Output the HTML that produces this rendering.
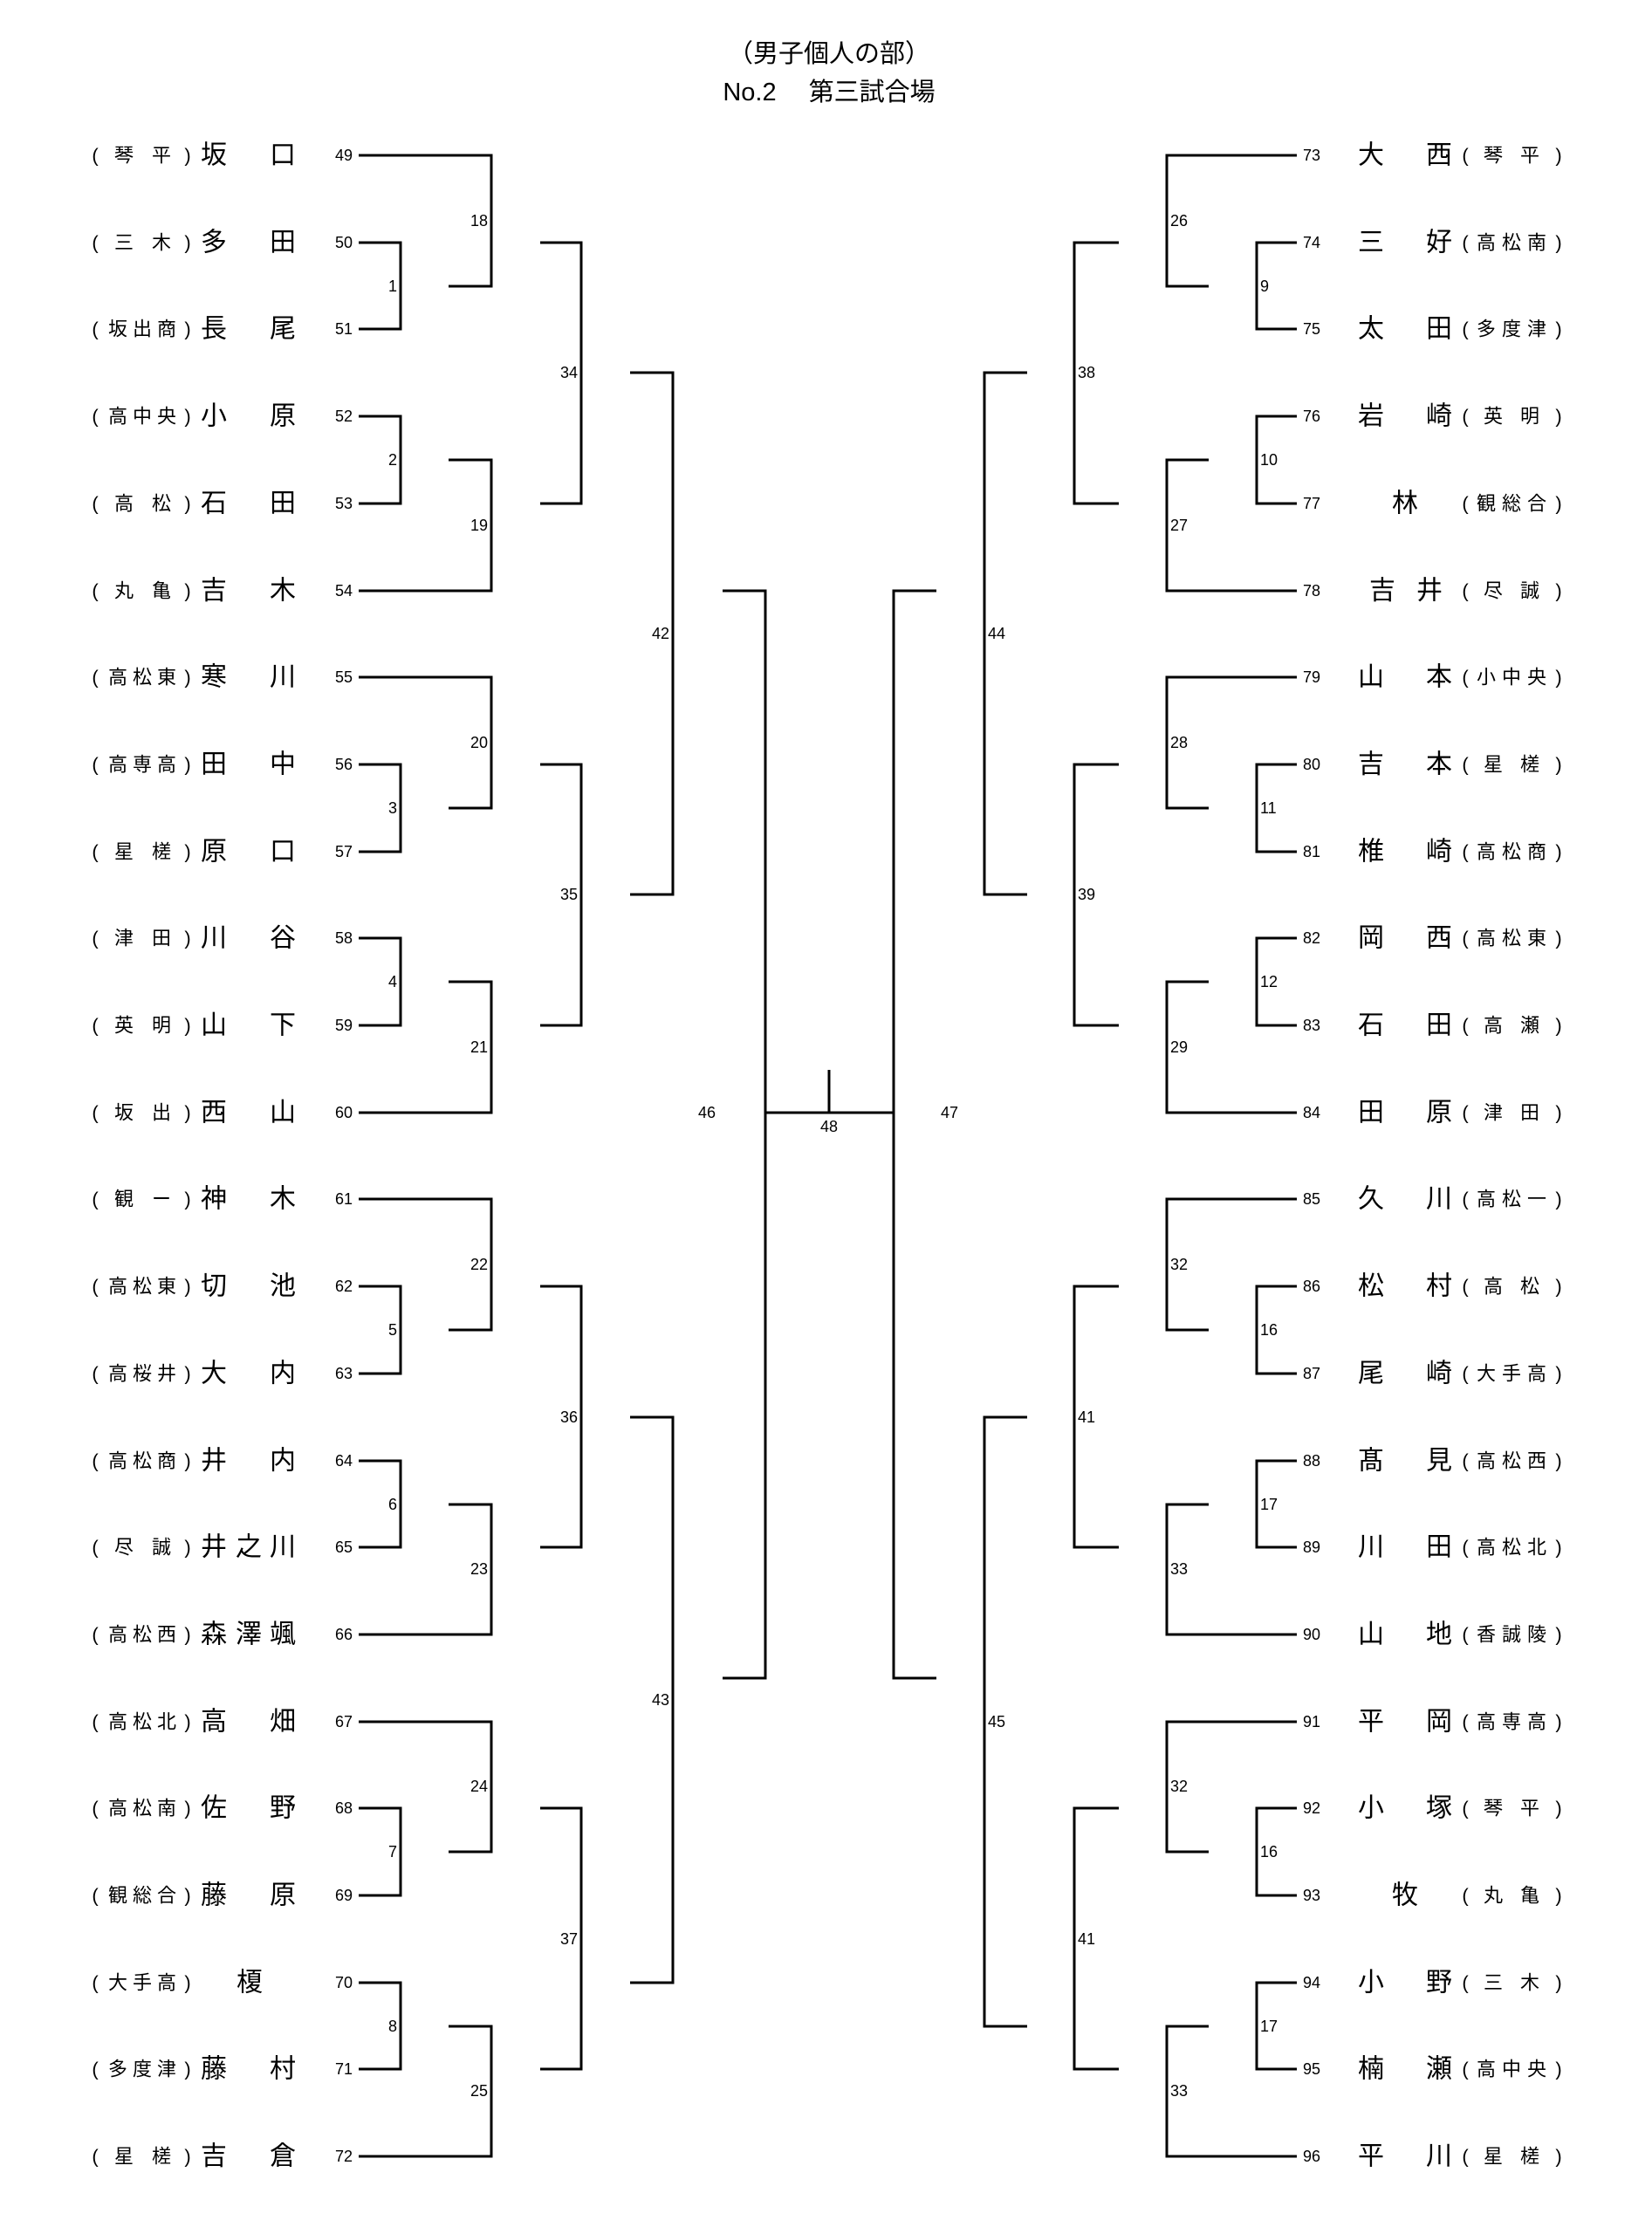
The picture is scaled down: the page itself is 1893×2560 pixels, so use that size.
<!DOCTYPE html>
<html><head><meta charset="utf-8"><style>
html,body{margin:0;padding:0;background:#fff;}
svg{display:block;}
text{font-family:"Liberation Sans","Noto Sans CJK JP",sans-serif;fill:#000;dominant-baseline:central;}
.n{font-size:18px;}
.s{font-size:22px;text-anchor:middle;}
.m{font-size:30px;text-anchor:middle;}
.l{font-size:18px;}
.e{text-anchor:end;}
.c{text-anchor:middle;}
.t{font-size:29px;text-anchor:middle;}
polyline,line{fill:none;stroke:#000;stroke-width:3;}
</style></head><body>
<svg width="1893" height="2560" viewBox="0 0 1893 2560" xmlns="http://www.w3.org/2000/svg">
<text class="t" x="950" y="62">（男子個人の部）</text>
<text class="t" x="950" y="106">No.2　 第三試合場</text>

<!-- LEFT LINES -->
<g>
<!-- block0 -->
<polyline points="411,278 459,278 459,377 411,377"/>
<polyline points="411,477 459,477 459,577 411,577"/>
<polyline points="411,178 563,178 563,328 514,328"/>
<polyline points="514,527 563,527 563,677 411,677"/>
<polyline points="619,278 666,278 666,577 619,577"/>
<!-- block1 -->
<polyline points="411,876 459,876 459,976 411,976"/>
<polyline points="411,1075 459,1075 459,1175 411,1175"/>
<polyline points="411,776 563,776 563,926 514,926"/>
<polyline points="514,1125 563,1125 563,1275 411,1275"/>
<polyline points="619,876 666,876 666,1175 619,1175"/>
<!-- block2 -->
<polyline points="411,1474 459,1474 459,1574 411,1574"/>
<polyline points="411,1674 459,1674 459,1773 411,1773"/>
<polyline points="411,1374 563,1374 563,1524 514,1524"/>
<polyline points="514,1724 563,1724 563,1873 411,1873"/>
<polyline points="619,1474 666,1474 666,1773 619,1773"/>
<!-- block3 -->
<polyline points="411,2072 459,2072 459,2172 411,2172"/>
<polyline points="411,2272 459,2272 459,2371 411,2371"/>
<polyline points="411,1973 563,1973 563,2122 514,2122"/>
<polyline points="514,2322 563,2322 563,2471 411,2471"/>
<polyline points="619,2072 666,2072 666,2371 619,2371"/>
<!-- r4 r5 -->
<polyline points="722,427 771,427 771,1025 722,1025"/>
<polyline points="722,1624 771,1624 771,2272 722,2272"/>
<polyline points="828,677 877,677 877,1923 828,1923"/>
</g>
<!-- CENTER -->
<line x1="877" y1="1275" x2="1024" y2="1275"/>
<line x1="950" y1="1226" x2="950" y2="1275"/>
<!-- RIGHT LINES -->
<g>
<polyline points="1486,278 1440,278 1440,377 1486,377"/>
<polyline points="1486,477 1440,477 1440,577 1486,577"/>
<polyline points="1486,178 1337,178 1337,328 1385,328"/>
<polyline points="1385,527 1337,527 1337,677 1486,677"/>
<polyline points="1282,278 1231,278 1231,577 1282,577"/>

<polyline points="1486,876 1440,876 1440,976 1486,976"/>
<polyline points="1486,1075 1440,1075 1440,1175 1486,1175"/>
<polyline points="1486,776 1337,776 1337,926 1385,926"/>
<polyline points="1385,1125 1337,1125 1337,1275 1486,1275"/>
<polyline points="1282,876 1231,876 1231,1175 1282,1175"/>

<polyline points="1486,1474 1440,1474 1440,1574 1486,1574"/>
<polyline points="1486,1674 1440,1674 1440,1773 1486,1773"/>
<polyline points="1486,1374 1337,1374 1337,1524 1385,1524"/>
<polyline points="1385,1724 1337,1724 1337,1873 1486,1873"/>
<polyline points="1282,1474 1231,1474 1231,1773 1282,1773"/>

<polyline points="1486,2072 1440,2072 1440,2172 1486,2172"/>
<polyline points="1486,2272 1440,2272 1440,2371 1486,2371"/>
<polyline points="1486,1973 1337,1973 1337,2122 1385,2122"/>
<polyline points="1385,2322 1337,2322 1337,2471 1486,2471"/>
<polyline points="1282,2072 1231,2072 1231,2371 1282,2371"/>

<polyline points="1177,427 1128,427 1128,1025 1177,1025"/>
<polyline points="1177,1624 1128,1624 1128,2322 1177,2322"/>
<polyline points="1073,677 1024,677 1024,1923 1073,1923"/>
</g>

<!-- LEFT ROUND LABELS -->
<g class="l e">
<text class="l e" x="455" y="328">1</text><text class="l e" x="455" y="527">2</text>
<text class="l e" x="559" y="253">18</text><text class="l e" x="559" y="602">19</text>
<text class="l e" x="662" y="427">34</text>
<text class="l e" x="455" y="926">3</text><text class="l e" x="455" y="1125">4</text>
<text class="l e" x="559" y="851">20</text><text class="l e" x="559" y="1200">21</text>
<text class="l e" x="662" y="1025">35</text>
<text class="l e" x="455" y="1524">5</text><text class="l e" x="455" y="1724">6</text>
<text class="l e" x="559" y="1449">22</text><text class="l e" x="559" y="1798">23</text>
<text class="l e" x="662" y="1624">36</text>
<text class="l e" x="455" y="2122">7</text><text class="l e" x="455" y="2322">8</text>
<text class="l e" x="559" y="2047">24</text><text class="l e" x="559" y="2396">25</text>
<text class="l e" x="662" y="2222">37</text>
<text class="l e" x="767" y="726">42</text>
<text class="l e" x="767" y="1948">43</text>
<text class="l c" x="810" y="1275">46</text>
<text class="l c" x="950" y="1291">48</text>
<text class="l c" x="1088" y="1275">47</text>
</g>
<!-- RIGHT ROUND LABELS -->
<text class="l" x="1444" y="328">9</text><text class="l" x="1444" y="527">10</text>
<text class="l" x="1341" y="253">26</text><text class="l" x="1341" y="602">27</text>
<text class="l" x="1235" y="427">38</text>
<text class="l" x="1444" y="926">11</text><text class="l" x="1444" y="1125">12</text>
<text class="l" x="1341" y="851">28</text><text class="l" x="1341" y="1200">29</text>
<text class="l" x="1235" y="1025">39</text>
<text class="l" x="1444" y="1524">16</text><text class="l" x="1444" y="1724">17</text>
<text class="l" x="1341" y="1449">32</text><text class="l" x="1341" y="1798">33</text>
<text class="l" x="1235" y="1624">41</text>
<text class="l" x="1444" y="2122">16</text><text class="l" x="1444" y="2322">17</text>
<text class="l" x="1341" y="2047">32</text><text class="l" x="1341" y="2396">33</text>
<text class="l" x="1235" y="2222">41</text>
<text class="l" x="1132" y="726">44</text>
<text class="l" x="1132" y="1973">45</text>

<!-- LEFT ENTRIES -->
<g>
<text class="s" x="109" y="178">(</text><text class="s" x="142" y="178">琴</text><text class="s" x="185" y="178">平</text><text class="s" x="215" y="178">)</text><text class="m" x="245" y="178">坂</text><text class="m" x="324" y="178">口</text><text class="n e" x="404" y="178">49</text>
<text class="s" x="109" y="278">(</text><text class="s" x="142" y="278">三</text><text class="s" x="185" y="278">木</text><text class="s" x="215" y="278">)</text><text class="m" x="245" y="278">多</text><text class="m" x="324" y="278">田</text><text class="n e" x="404" y="278">50</text>
<text class="s" x="109" y="377">(</text><text class="s" x="135" y="377">坂</text><text class="s" x="163" y="377">出</text><text class="s" x="191" y="377">商</text><text class="s" x="215" y="377">)</text><text class="m" x="245" y="377">長</text><text class="m" x="324" y="377">尾</text><text class="n e" x="404" y="377">51</text>
<text class="s" x="109" y="477">(</text><text class="s" x="135" y="477">高</text><text class="s" x="163" y="477">中</text><text class="s" x="191" y="477">央</text><text class="s" x="215" y="477">)</text><text class="m" x="245" y="477">小</text><text class="m" x="324" y="477">原</text><text class="n e" x="404" y="477">52</text>
<text class="s" x="109" y="577">(</text><text class="s" x="142" y="577">高</text><text class="s" x="185" y="577">松</text><text class="s" x="215" y="577">)</text><text class="m" x="245" y="577">石</text><text class="m" x="324" y="577">田</text><text class="n e" x="404" y="577">53</text>
<text class="s" x="109" y="677">(</text><text class="s" x="142" y="677">丸</text><text class="s" x="185" y="677">亀</text><text class="s" x="215" y="677">)</text><text class="m" x="245" y="677">吉</text><text class="m" x="324" y="677">木</text><text class="n e" x="404" y="677">54</text>
<text class="s" x="109" y="776">(</text><text class="s" x="135" y="776">高</text><text class="s" x="163" y="776">松</text><text class="s" x="191" y="776">東</text><text class="s" x="215" y="776">)</text><text class="m" x="245" y="776">寒</text><text class="m" x="324" y="776">川</text><text class="n e" x="404" y="776">55</text>
<text class="s" x="109" y="876">(</text><text class="s" x="135" y="876">高</text><text class="s" x="163" y="876">専</text><text class="s" x="191" y="876">高</text><text class="s" x="215" y="876">)</text><text class="m" x="245" y="876">田</text><text class="m" x="324" y="876">中</text><text class="n e" x="404" y="876">56</text>
<text class="s" x="109" y="976">(</text><text class="s" x="142" y="976">星</text><text class="s" x="185" y="976">槎</text><text class="s" x="215" y="976">)</text><text class="m" x="245" y="976">原</text><text class="m" x="324" y="976">口</text><text class="n e" x="404" y="976">57</text>
<text class="s" x="109" y="1075">(</text><text class="s" x="142" y="1075">津</text><text class="s" x="185" y="1075">田</text><text class="s" x="215" y="1075">)</text><text class="m" x="245" y="1075">川</text><text class="m" x="324" y="1075">谷</text><text class="n e" x="404" y="1075">58</text>
<text class="s" x="109" y="1175">(</text><text class="s" x="142" y="1175">英</text><text class="s" x="185" y="1175">明</text><text class="s" x="215" y="1175">)</text><text class="m" x="245" y="1175">山</text><text class="m" x="324" y="1175">下</text><text class="n e" x="404" y="1175">59</text>
<text class="s" x="109" y="1275">(</text><text class="s" x="142" y="1275">坂</text><text class="s" x="185" y="1275">出</text><text class="s" x="215" y="1275">)</text><text class="m" x="245" y="1275">西</text><text class="m" x="324" y="1275">山</text><text class="n e" x="404" y="1275">60</text>
<text class="s" x="109" y="1374">(</text><text class="s" x="142" y="1374">観</text><text class="s" x="185" y="1374">ー</text><text class="s" x="215" y="1374">)</text><text class="m" x="245" y="1374">神</text><text class="m" x="324" y="1374">木</text><text class="n e" x="404" y="1374">61</text>
<text class="s" x="109" y="1474">(</text><text class="s" x="135" y="1474">高</text><text class="s" x="163" y="1474">松</text><text class="s" x="191" y="1474">東</text><text class="s" x="215" y="1474">)</text><text class="m" x="245" y="1474">切</text><text class="m" x="324" y="1474">池</text><text class="n e" x="404" y="1474">62</text>
<text class="s" x="109" y="1574">(</text><text class="s" x="135" y="1574">高</text><text class="s" x="163" y="1574">桜</text><text class="s" x="191" y="1574">井</text><text class="s" x="215" y="1574">)</text><text class="m" x="245" y="1574">大</text><text class="m" x="324" y="1574">内</text><text class="n e" x="404" y="1574">63</text>
<text class="s" x="109" y="1674">(</text><text class="s" x="135" y="1674">高</text><text class="s" x="163" y="1674">松</text><text class="s" x="191" y="1674">商</text><text class="s" x="215" y="1674">)</text><text class="m" x="245" y="1674">井</text><text class="m" x="324" y="1674">内</text><text class="n e" x="404" y="1674">64</text>
<text class="s" x="109" y="1773">(</text><text class="s" x="142" y="1773">尽</text><text class="s" x="185" y="1773">誠</text><text class="s" x="215" y="1773">)</text><text class="m" x="245" y="1773">井</text><text class="m" x="285" y="1773">之</text><text class="m" x="324" y="1773">川</text><text class="n e" x="404" y="1773">65</text>
<text class="s" x="109" y="1873">(</text><text class="s" x="135" y="1873">高</text><text class="s" x="163" y="1873">松</text><text class="s" x="191" y="1873">西</text><text class="s" x="215" y="1873">)</text><text class="m" x="245" y="1873">森</text><text class="m" x="285" y="1873">澤</text><text class="m" x="324" y="1873">颯</text><text class="n e" x="404" y="1873">66</text>
<text class="s" x="109" y="1973">(</text><text class="s" x="135" y="1973">高</text><text class="s" x="163" y="1973">松</text><text class="s" x="191" y="1973">北</text><text class="s" x="215" y="1973">)</text><text class="m" x="245" y="1973">高</text><text class="m" x="324" y="1973">畑</text><text class="n e" x="404" y="1973">67</text>
<text class="s" x="109" y="2072">(</text><text class="s" x="135" y="2072">高</text><text class="s" x="163" y="2072">松</text><text class="s" x="191" y="2072">南</text><text class="s" x="215" y="2072">)</text><text class="m" x="245" y="2072">佐</text><text class="m" x="324" y="2072">野</text><text class="n e" x="404" y="2072">68</text>
<text class="s" x="109" y="2172">(</text><text class="s" x="135" y="2172">観</text><text class="s" x="163" y="2172">総</text><text class="s" x="191" y="2172">合</text><text class="s" x="215" y="2172">)</text><text class="m" x="245" y="2172">藤</text><text class="m" x="324" y="2172">原</text><text class="n e" x="404" y="2172">69</text>
<text class="s" x="109" y="2272">(</text><text class="s" x="135" y="2272">大</text><text class="s" x="163" y="2272">手</text><text class="s" x="191" y="2272">高</text><text class="s" x="215" y="2272">)</text><text class="m" x="286" y="2272">榎</text><text class="n e" x="404" y="2272">70</text>
<text class="s" x="109" y="2371">(</text><text class="s" x="135" y="2371">多</text><text class="s" x="163" y="2371">度</text><text class="s" x="191" y="2371">津</text><text class="s" x="215" y="2371">)</text><text class="m" x="245" y="2371">藤</text><text class="m" x="324" y="2371">村</text><text class="n e" x="404" y="2371">71</text>
<text class="s" x="109" y="2471">(</text><text class="s" x="142" y="2471">星</text><text class="s" x="185" y="2471">槎</text><text class="s" x="215" y="2471">)</text><text class="m" x="245" y="2471">吉</text><text class="m" x="324" y="2471">倉</text><text class="n e" x="404" y="2471">72</text>
</g>

<!-- RIGHT ENTRIES -->
<g>
<text class="n" x="1493" y="178">73</text><text class="m" x="1571" y="178">大</text><text class="m" x="1649" y="178">西</text><text class="s" x="1679" y="178">(</text><text class="s" x="1711" y="178">琴</text><text class="s" x="1753" y="178">平</text><text class="s" x="1786" y="178">)</text>
<text class="n" x="1493" y="278">74</text><text class="m" x="1571" y="278">三</text><text class="m" x="1649" y="278">好</text><text class="s" x="1679" y="278">(</text><text class="s" x="1703" y="278">高</text><text class="s" x="1732" y="278">松</text><text class="s" x="1761" y="278">南</text><text class="s" x="1786" y="278">)</text>
<text class="n" x="1493" y="377">75</text><text class="m" x="1571" y="377">太</text><text class="m" x="1649" y="377">田</text><text class="s" x="1679" y="377">(</text><text class="s" x="1703" y="377">多</text><text class="s" x="1732" y="377">度</text><text class="s" x="1761" y="377">津</text><text class="s" x="1786" y="377">)</text>
<text class="n" x="1493" y="477">76</text><text class="m" x="1571" y="477">岩</text><text class="m" x="1649" y="477">崎</text><text class="s" x="1679" y="477">(</text><text class="s" x="1711" y="477">英</text><text class="s" x="1753" y="477">明</text><text class="s" x="1786" y="477">)</text>
<text class="n" x="1493" y="577">77</text><text class="m" x="1610" y="577">林</text><text class="s" x="1679" y="577">(</text><text class="s" x="1703" y="577">観</text><text class="s" x="1732" y="577">総</text><text class="s" x="1761" y="577">合</text><text class="s" x="1786" y="577">)</text>
<text class="n" x="1493" y="677">78</text><text class="m" x="1584" y="677">吉</text><text class="m" x="1638" y="677">井</text><text class="s" x="1679" y="677">(</text><text class="s" x="1711" y="677">尽</text><text class="s" x="1753" y="677">誠</text><text class="s" x="1786" y="677">)</text>
<text class="n" x="1493" y="776">79</text><text class="m" x="1571" y="776">山</text><text class="m" x="1649" y="776">本</text><text class="s" x="1679" y="776">(</text><text class="s" x="1703" y="776">小</text><text class="s" x="1732" y="776">中</text><text class="s" x="1761" y="776">央</text><text class="s" x="1786" y="776">)</text>
<text class="n" x="1493" y="876">80</text><text class="m" x="1571" y="876">吉</text><text class="m" x="1649" y="876">本</text><text class="s" x="1679" y="876">(</text><text class="s" x="1711" y="876">星</text><text class="s" x="1753" y="876">槎</text><text class="s" x="1786" y="876">)</text>
<text class="n" x="1493" y="976">81</text><text class="m" x="1571" y="976">椎</text><text class="m" x="1649" y="976">崎</text><text class="s" x="1679" y="976">(</text><text class="s" x="1703" y="976">高</text><text class="s" x="1732" y="976">松</text><text class="s" x="1761" y="976">商</text><text class="s" x="1786" y="976">)</text>
<text class="n" x="1493" y="1075">82</text><text class="m" x="1571" y="1075">岡</text><text class="m" x="1649" y="1075">西</text><text class="s" x="1679" y="1075">(</text><text class="s" x="1703" y="1075">高</text><text class="s" x="1732" y="1075">松</text><text class="s" x="1761" y="1075">東</text><text class="s" x="1786" y="1075">)</text>
<text class="n" x="1493" y="1175">83</text><text class="m" x="1571" y="1175">石</text><text class="m" x="1649" y="1175">田</text><text class="s" x="1679" y="1175">(</text><text class="s" x="1711" y="1175">高</text><text class="s" x="1753" y="1175">瀬</text><text class="s" x="1786" y="1175">)</text>
<text class="n" x="1493" y="1275">84</text><text class="m" x="1571" y="1275">田</text><text class="m" x="1649" y="1275">原</text><text class="s" x="1679" y="1275">(</text><text class="s" x="1711" y="1275">津</text><text class="s" x="1753" y="1275">田</text><text class="s" x="1786" y="1275">)</text>
<text class="n" x="1493" y="1374">85</text><text class="m" x="1571" y="1374">久</text><text class="m" x="1649" y="1374">川</text><text class="s" x="1679" y="1374">(</text><text class="s" x="1703" y="1374">高</text><text class="s" x="1732" y="1374">松</text><text class="s" x="1761" y="1374">一</text><text class="s" x="1786" y="1374">)</text>
<text class="n" x="1493" y="1474">86</text><text class="m" x="1571" y="1474">松</text><text class="m" x="1649" y="1474">村</text><text class="s" x="1679" y="1474">(</text><text class="s" x="1711" y="1474">高</text><text class="s" x="1753" y="1474">松</text><text class="s" x="1786" y="1474">)</text>
<text class="n" x="1493" y="1574">87</text><text class="m" x="1571" y="1574">尾</text><text class="m" x="1649" y="1574">崎</text><text class="s" x="1679" y="1574">(</text><text class="s" x="1703" y="1574">大</text><text class="s" x="1732" y="1574">手</text><text class="s" x="1761" y="1574">高</text><text class="s" x="1786" y="1574">)</text>
<text class="n" x="1493" y="1674">88</text><text class="m" x="1571" y="1674">髙</text><text class="m" x="1649" y="1674">見</text><text class="s" x="1679" y="1674">(</text><text class="s" x="1703" y="1674">高</text><text class="s" x="1732" y="1674">松</text><text class="s" x="1761" y="1674">西</text><text class="s" x="1786" y="1674">)</text>
<text class="n" x="1493" y="1773">89</text><text class="m" x="1571" y="1773">川</text><text class="m" x="1649" y="1773">田</text><text class="s" x="1679" y="1773">(</text><text class="s" x="1703" y="1773">高</text><text class="s" x="1732" y="1773">松</text><text class="s" x="1761" y="1773">北</text><text class="s" x="1786" y="1773">)</text>
<text class="n" x="1493" y="1873">90</text><text class="m" x="1571" y="1873">山</text><text class="m" x="1649" y="1873">地</text><text class="s" x="1679" y="1873">(</text><text class="s" x="1703" y="1873">香</text><text class="s" x="1732" y="1873">誠</text><text class="s" x="1761" y="1873">陵</text><text class="s" x="1786" y="1873">)</text>
<text class="n" x="1493" y="1973">91</text><text class="m" x="1571" y="1973">平</text><text class="m" x="1649" y="1973">岡</text><text class="s" x="1679" y="1973">(</text><text class="s" x="1703" y="1973">高</text><text class="s" x="1732" y="1973">専</text><text class="s" x="1761" y="1973">高</text><text class="s" x="1786" y="1973">)</text>
<text class="n" x="1493" y="2072">92</text><text class="m" x="1571" y="2072">小</text><text class="m" x="1649" y="2072">塚</text><text class="s" x="1679" y="2072">(</text><text class="s" x="1711" y="2072">琴</text><text class="s" x="1753" y="2072">平</text><text class="s" x="1786" y="2072">)</text>
<text class="n" x="1493" y="2172">93</text><text class="m" x="1610" y="2172">牧</text><text class="s" x="1679" y="2172">(</text><text class="s" x="1711" y="2172">丸</text><text class="s" x="1753" y="2172">亀</text><text class="s" x="1786" y="2172">)</text>
<text class="n" x="1493" y="2272">94</text><text class="m" x="1571" y="2272">小</text><text class="m" x="1649" y="2272">野</text><text class="s" x="1679" y="2272">(</text><text class="s" x="1711" y="2272">三</text><text class="s" x="1753" y="2272">木</text><text class="s" x="1786" y="2272">)</text>
<text class="n" x="1493" y="2371">95</text><text class="m" x="1571" y="2371">楠</text><text class="m" x="1649" y="2371">瀬</text><text class="s" x="1679" y="2371">(</text><text class="s" x="1703" y="2371">高</text><text class="s" x="1732" y="2371">中</text><text class="s" x="1761" y="2371">央</text><text class="s" x="1786" y="2371">)</text>
<text class="n" x="1493" y="2471">96</text><text class="m" x="1571" y="2471">平</text><text class="m" x="1649" y="2471">川</text><text class="s" x="1679" y="2471">(</text><text class="s" x="1711" y="2471">星</text><text class="s" x="1753" y="2471">槎</text><text class="s" x="1786" y="2471">)</text>
</g>
</svg>
</body></html>
